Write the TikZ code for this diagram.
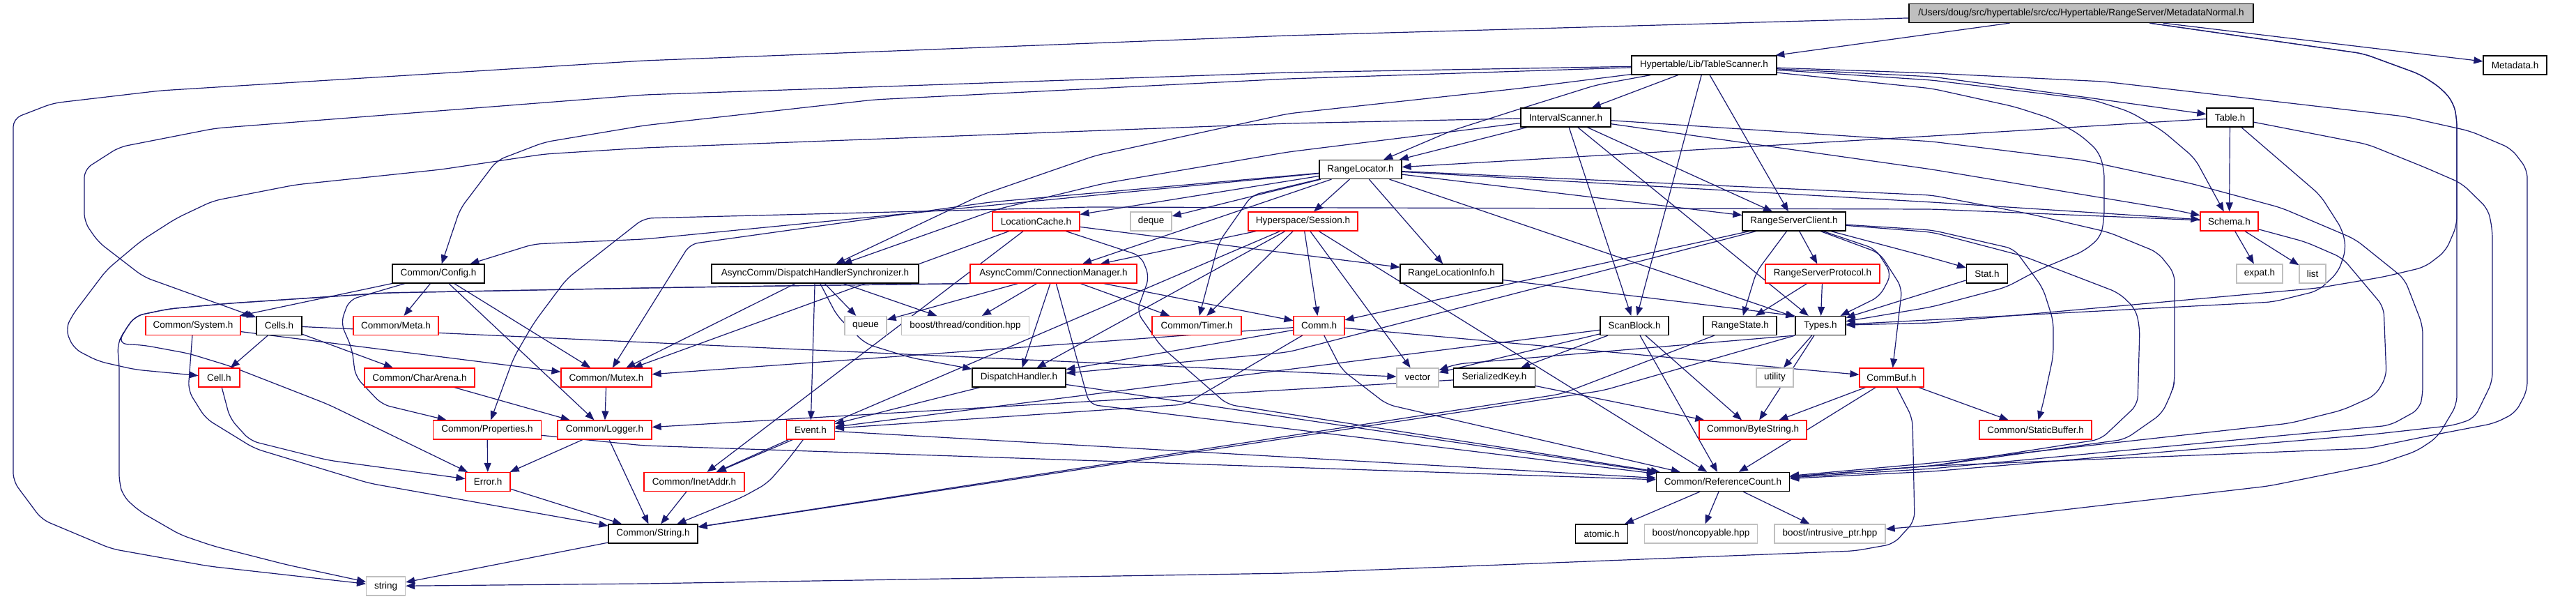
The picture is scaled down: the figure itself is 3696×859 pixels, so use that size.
\documentclass[tikz,border=0pt]{standalone}
\usepackage{fontspec}
\newfontfamily\lsans{Liberation Sans}
\usetikzlibrary{arrows.meta}
\pgfdeclarelayer{back}
\pgfdeclarelayer{bg}
\pgfsetlayers{back,bg,main}
\definecolor{edgec}{HTML}{191970}
\definecolor{boxgray}{HTML}{BFBFBF}
\begin{document}
\begin{tikzpicture}[x=1pt,y=-1pt,
 nb/.style={draw=black,line width=1.2pt,fill=white,minimum height=27pt,inner sep=0pt,font=\lsans\fontsize{13.5}{15}\selectfont},
 nr/.style={nb,draw=red},
 ng/.style={nb,draw=boxgray},
 nm/.style={nb,fill=boxgray},
 e/.style={draw=edgec,line width=1.2pt,-{Triangle[length=13pt,width=10pt]},rounded corners=12pt}]
\begin{pgfonlayer}{back}
\fill[white] (0,0) rectangle (3696,859);
\end{pgfonlayer}
\useasboundingbox (0,0) rectangle (3696,859);
% nodes
\node[nm,minimum width=494pt] (main) at (2986,19) {/Users/doug/src/hypertable/src/cc/Hypertable/RangeServer/MetadataNormal.h};
\node[nb,minimum width=91pt] (meta) at (3608.5,93.5) {Metadata.h};
\node[nb,minimum width=208pt] (ts) at (2445,93.5) {Hypertable/Lib/TableScanner.h};
\node[nb,minimum width=129pt] (is) at (2246.5,168.5) {IntervalScanner.h};
\node[nb,minimum width=67pt] (table) at (3199.5,168.5) {Table.h};
\node[nb,minimum width=118pt] (rl) at (1952,243) {RangeLocator.h};
\node[nr,minimum width=83pt] (schema) at (3198.5,317.5) {Schema.h};
\node[nr,minimum width=125pt] (lc) at (1486.5,317.5) {LocationCache.h};
\node[ng,minimum width=59pt] (deque) at (1651.5,317.5) {deque};
\node[nr,minimum width=157pt] (sess) at (1869.5,317.5) {Hyperspace/Session.h};
\node[nb,minimum width=148pt] (rsc) at (2574,317.5) {RangeServerClient.h};
\node[nb,minimum width=132pt] (config) at (629,392.5) {Common/Config.h};
\node[nb,minimum width=297pt] (dhs) at (1169.5,392.5) {AsyncComm/DispatchHandlerSynchronizer.h};
\node[nr,minimum width=239pt] (cm) at (1511.5,392.5) {AsyncComm/ConnectionManager.h};
\node[nb,minimum width=147pt] (rli) at (2082.5,392.5) {RangeLocationInfo.h};
\node[nr,minimum width=164pt] (rsp) at (2615,392.5) {RangeServerProtocol.h};
\node[nb,minimum width=59pt] (stat) at (2851,392.5) {Stat.h};
\node[ng,minimum width=66pt] (expat) at (3242,392.5) {expat.h};
\node[ng,minimum width=38pt] (list) at (3318,392.5) {list};
\node[nr,minimum width=136pt] (system) at (277,467) {Common/System.h};
\node[nb,minimum width=65pt] (cells) at (400.5,467) {Cells.h};
\node[nr,minimum width=122pt] (cmeta) at (568,467) {Common/Meta.h};
\node[ng,minimum width=60pt] (queue) at (1242,467) {queue};
\node[ng,minimum width=183pt] (cond) at (1385,467) {boost/thread/condition.hpp};
\node[nr,minimum width=128pt] (timer) at (1717,467) {Common/Timer.h};
\node[nr,minimum width=73pt] (comm) at (1892.5,467) {Comm.h};
\node[nb,minimum width=98pt] (sb) at (2345,467) {ScanBlock.h};
\node[nb,minimum width=105pt] (rs) at (2496.5,467) {RangeState.h};
\node[nb,minimum width=72pt] (types) at (2612,467) {Types.h};
\node[nr,minimum width=59pt] (cell) at (314.5,541.5) {Cell.h};
\node[nr,minimum width=158pt] (ca) at (602,541.5) {Common/CharArena.h};
\node[nr,minimum width=130pt] (mutex) at (870,541.5) {Common/Mutex.h};
\node[nb,minimum width=134pt] (dh) at (1462,541.5) {DispatchHandler.h};
\node[ng,minimum width=60pt] (vector) at (2034,541.5) {vector};
\node[nb,minimum width=117pt] (sk) at (2144,541.5) {SerializedKey.h};
\node[ng,minimum width=53pt] (utility) at (2546.5,541.5) {utility};
\node[nr,minimum width=92pt] (cb) at (2714,541.5) {CommBuf.h};
\node[nr,minimum width=155pt] (props) at (699,616.5) {Common/Properties.h};
\node[nr,minimum width=135pt] (logger) at (867.5,616.5) {Common/Logger.h};
\node[nr,minimum width=68.5pt] (event) at (1163,616.5) {Event.h};
\node[nr,minimum width=154pt] (bs) at (2515,616.5) {Common/ByteString.h};
\node[nr,minimum width=161pt] (sbuf) at (2920.5,616.5) {Common/StaticBuffer.h};
\node[nr,minimum width=64pt] (error) at (700,691) {Error.h};
\node[nr,minimum width=144pt] (inet) at (996,691) {Common/InetAddr.h};
\node[nb,minimum width=191pt] (rc) at (2472,691) {Common/ReferenceCount.h};
\node[nb,minimum width=128pt] (cstr) at (937,765.5) {Common/String.h};
\node[nb,minimum width=75pt] (atomic) at (2298,765.5) {atomic.h};
\node[ng,minimum width=162pt] (noncopy) at (2440.5,765.5) {boost/noncopyable.hpp};
\node[ng,minimum width=159pt] (intr) at (2625.5,765.5) {boost/intrusive\_ptr.hpp};
\node[ng,minimum width=56pt] (string) at (553.6,840.5) {string};
% edges
\begin{pgfonlayer}{bg}
% main
\draw[e] (main) -- (ts);
\draw[e] (main) -- (meta);
\draw[e] (main) -- (1848,51) -- (924,87) -- (230,130) -- (76,148) -- (19,170) -- (19,690) -- (60,745) -- (160,787) -- (300,812) -- (string);
\draw[e] (main) -- (3391,77) -- (3473,107) -- (3503,127) -- (3520,147) -- (3525,170) -- (3525,323) -- (3509,360) -- (3479,383) -- (3420,397) -- (3326,413) -- (2772,463) -- (types);
\draw[e] (main) -- (3391,77) -- (3473,107) -- (3503,127) -- (3520,147) -- (3525,170) -- (3525,580) -- (3497,627) -- (3467,647) -- (3414,665) -- (3255,697) -- (2772,753) -- (intr);
% TableScanner
\draw[e] (ts) -- (is);
\draw[e] (ts) -- (2290,122) -- (2178,157) -- (2084,187) -- (rl);
\draw[e] (ts) -- (1848,113) -- (1254,143) -- (924,180) -- (781,204) -- (713,230) -- (660,300) -- (config);
\draw[e] (ts) -- (1848,104) -- (924,136) -- (309,184) -- (171,211) -- (121,243) -- (121,318) -- (141,347) -- (206,397) -- (cells);
\draw[e] (ts) -- (2772,110) -- (2996,140) -- (table);
\draw[e] (ts) -- (2772,115) -- (3002,143) -- (3055,160) -- (3102,187) -- (3149,227) -- (schema);
\draw[e] (ts) -- (rsc);
\draw[e] (ts) -- (sb);
\draw[e] (ts) -- (2772,127) -- (2890,153) -- (2943,170) -- (2984,193) -- (3011,217) -- (3019,243) -- (3019,313) -- (3014,340) -- (2990,360) -- (2925,387) -- (2878,412) -- (2772,440) -- (types);
\draw[e] (ts) -- (2772,105) -- (3019,117) -- (3450,167) -- (3544,188) -- (3603,213) -- (3626,243) -- (3626,560) -- (3609,592) -- (3579,607) -- (3485,625) -- (3397,643) -- (2772,668) -- (rc);
\draw[e] (ts) -- (2178,127) -- (1848,163) -- (1572,223) -- (1407,280) -- (dhs);
% IntervalScanner
\draw[e] (is) -- (rl);
\draw[e] (is) -- (rsc);
\draw[e] (is) -- (sb);
\draw[e] (is) -- (types);
\draw[e] (is) -- (2772,243) -- (3114,300) -- (schema);
\draw[e] (is) -- (1848,177) -- (924,212) -- (781,221) -- (633,243) -- (424,265) -- (306,288) -- (253,313) -- (203,345) -- (153,387) -- (103,453) -- (94,473) -- (106,500) -- (141,518) -- (194,530) -- (cell);
\draw[e] (is) -- (1848,218) -- (1584,263) -- (1431,300) -- (dhs);
\draw[e] (is) -- (2772,203) -- (2990,230) -- (3143,263) -- (3273,298) -- (3379,343) -- (3450,400) -- (3476,467) -- (3476,567) -- (3471,587) -- (3429,610) -- (3302,622) -- (2772,672) -- (rc);
% Table
\draw[e] (table) -- (2772,195) -- (rl);
\draw[e] (table) -- (schema);
\draw[e] (table) -- (3329,280) -- (3361,330) -- (3366,357) -- (3355,390) -- (3326,417) -- (3261,433) -- (types);
\draw[e] (table) -- (3397,207) -- (3479,240) -- (3532,263) -- (3570,300) -- (3576,330) -- (3576,547) -- (3550,600) -- (3520,610) -- (3403,623) -- (2772,676) -- (rc);
% RangeLocator
\draw[e] (rl) -- (lc);
\draw[e] (rl) -- (deque);
\draw[e] (rl) -- (sess);
\draw[e] (rl) -- (cm);
\draw[e] (rl) -- (rli);
\draw[e] (rl) -- (rsc);
\draw[e] (rl) -- (2772,290) -- (schema);
\draw[e] (rl) -- (types);
\draw[e] (rl) -- (1796,280) -- (1749,347) -- (timer);
\draw[e] (rl) -- (1420,290) -- (990,350) -- (mutex);
\draw[e] (rl) -- (924,343) -- (766,350) -- (config);
\draw[e] (rl) -- (2772,280) -- (2913,307) -- (3025,333) -- (3096,362) -- (3120,392) -- (3120,547) -- (3117,560) -- (3102,593) -- (3049,630) -- (2772,668) -- (rc);
% LocationCache
\draw[e] (lc) -- (mutex);
\draw[e] (lc) -- (inet);
\draw[e] (lc) -- (rli);
\draw[e] (lc) -- (1637,367) -- (1649,397) -- (1631,447) -- (1666,497) -- (1761,580) -- (rc);
% Session
\draw[e] (sess) -- (cm);
\draw[e] (sess) -- (timer);
\draw[e] (sess) -- (comm);
\draw[e] (sess) -- (dh);
\draw[e] (sess) -- (vector);
\draw[e] (sess) -- (rc);
\draw[e] (sess) -- (inet);
% ConnectionManager
\draw[e] (cm) -- (queue);
\draw[e] (cm) -- (cond);
\draw[e] (cm) -- (timer);
\draw[e] (cm) -- (comm);
\draw[e] (cm) -- (dh);
\draw[e] (cm) -- (1563,580) -- (rc);
\draw[e] (cm.south west) -- (1118,410) -- (924,413) -- (554,420) -- (330,435) -- (242,443) -- (194,453) -- (177,477) -- (168,495) -- (171,520) -- (171,692) -- (177,712) -- (200,733) -- (259,767) -- (306,783) -- (412,810) -- (string);
\draw[e] (cm.south west) -- (1118,410) -- (924,413) -- (554,420) -- (330,435) -- (242,443) -- (194,453) -- (177,477) -- (170,493) -- (206,495) -- (271,507) -- (330,525) -- (471,580) -- (error);
% DHS
\draw[e] (dhs) -- (queue);
\draw[e] (dhs) -- (cond);
\draw[e] (dhs) -- (event);
\draw[e] (dhs) -- (1201,453) -- (1242,493) -- (1307,513) -- (dh);
\draw[e] (dhs) -- (mutex);
% Config
\draw[e] (config) -- (system);
\draw[e] (config) -- (cmeta);
\draw[e] (config) -- (mutex);
\draw[e] (config) -- (501,430) -- (489,463) -- (505,500) -- (510,540) -- (548,580) -- (props);
\draw[e] (config) -- (logger);
% System, Cells, Cell ...
\draw[e] (system) -- (mutex);
\draw[e] (system) -- (270,560) -- (295,600) -- (365,643) -- (530,693) -- (cstr);
\draw[e] (cells) -- (cell);
\draw[e] (cells) -- (ca);
\draw[e] (cells) -- (vector);
\draw[e] (cell) -- (330,600) -- (359,632) -- (471,660) -- (error);
\draw[e] (ca) -- (logger);
\draw[e] (mutex) -- (logger);
\draw[e] (props) -- (error);
\draw[e] (props) -- (924,639) -- (rc);
\draw[e] (logger) -- (error);
\draw[e] (logger) -- (cstr);
\draw[e] (error) -- (cstr);
\draw[e] (inet) -- (cstr);
\draw[e] (event) -- (inet);
\draw[e] (event) -- (1130,660) -- (1101,693) -- (1065,713) -- (cstr);
\draw[e] (event) -- (rc);
\draw[e] (dh) -- (event);
\draw[e] (dh) -- (rc);
% Comm
\draw[e] (comm) -- (mutex);
\draw[e] (comm) -- (dh);
\draw[e] (comm) -- (cb);
\draw[e] (comm) -- (1925,530) -- (1990,580) -- (rc);
\draw[e] (comm) -- (1700,580) -- (event);
% RangeServerClient
\draw[e] (rsc) -- (comm);
\draw[e] (rsc) -- (2697,363) -- (2729,413) -- (cb);
\draw[e] (rsc) -- (2772,330) -- (2890,357) -- (2931,413) -- (2946,460) -- (2946,510) -- (2931,580) -- (sbuf);
\draw[e] (rsc) -- (2772,333) -- (2902,367) -- (3040,420) -- (3064,443) -- (3070,470) -- (3067,580) -- (3014,630) -- (2772,668) -- (rc);
\draw[e] (rsc) -- (rsp);
\draw[e] (rsc) -- (2520,390) -- (rs);
\draw[e] (rsc) -- (2691,357) -- (2714,393) -- (2697,425) -- (types);
\draw[e] (rsc) -- (2772,370) -- (stat);
\draw[e] (rsc) -- (1848,505) -- (dh);
% others
\draw[e] (rsp) -- (types);
\draw[e] (rsp) -- (rs);
\draw[e] (rli) -- (types.north west);
\draw[e] (stat) -- (types);
\draw[e] (schema) -- (expat);
\draw[e] (schema) -- (list);
\draw[e] (schema) -- (3308,347) -- (3361,370) -- (3420,440) -- (3424,540) -- (3408,567) -- (3361,588) -- (3285,607) -- (2772,664) -- (rc);
\draw[e] (schema) -- (2772,300) -- (1960,298) -- (1560,297) -- (924,313) -- (813,400) -- (766,463) -- (737,513) -- (716,570) -- (props);
\draw[e] (sb) -- (vector);
\draw[e] (sb) -- (sk);
\draw[e] (sb) -- (bs);
\draw[e] (sb) -- (rc);
\draw[e] (sb) -- (event);
\draw[e] (sk) -- (bs);
\draw[e] (sk) -- (logger);
\draw[e] (types) -- (utility);
\draw[e] (types) -- (bs);
\draw[e] (types.south west) -- (2090,522) -- (vector);
\draw[e] (types.south west) -- (2300,560) -- (cstr);
\draw[e] (rs) -- (2240,565) -- (cstr);
\draw[e] (cb) -- (bs);
\draw[e] (cb) -- (sbuf);
\draw[e] (cb) -- (rc);
\draw[e] (cb) -- (2744,600) -- (2747,747) -- (2717,780) -- (2661,790) -- (1848,822) -- (924,837) -- (string);
\draw[e] (rc) -- (atomic);
\draw[e] (rc) -- (noncopy);
\draw[e] (rc) -- (intr);
\draw[e] (cstr) -- (string);
\end{pgfonlayer}
\end{tikzpicture}
\end{document}
